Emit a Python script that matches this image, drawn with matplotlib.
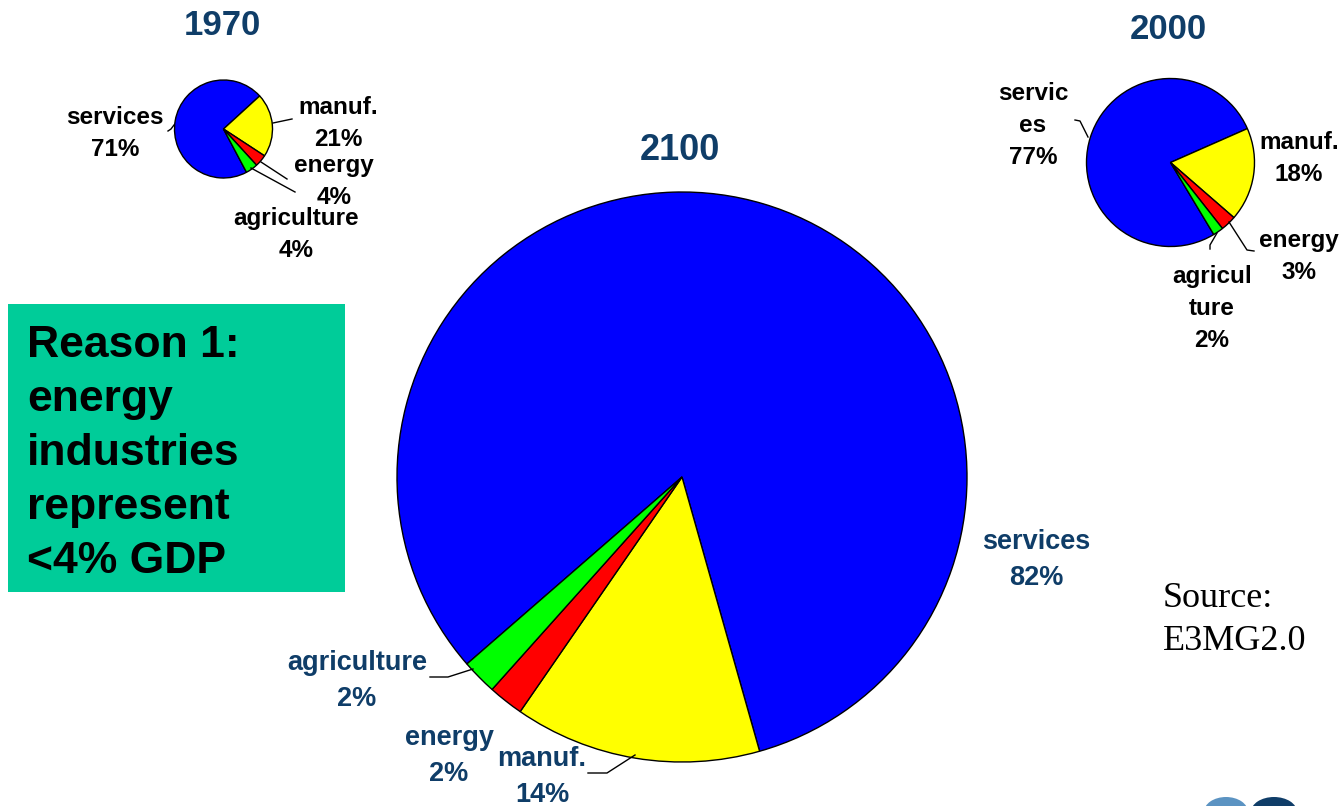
import numpy as np
import matplotlib.pyplot as plt
from matplotlib.patches import Rectangle, Ellipse

# =============================================================================
# DADOS: PARTICIPAÇÃO DOS SETORES NO PIB (%)
# =============================================================================

setores = ['services', 'manuf.', 'energy', 'agriculture']
cores = ['#0000ff', '#ffff00', '#ff0000', '#00ff00']

anos = ['1970', '2000', '2100']
part_1970 = [71, 21, 4, 4]
part_2000 = [77, 18, 3, 2]
part_2100 = [82, 14, 2, 2]

# no gráfico de 2000 os rótulos quebram no meio da palavra
nomes_2000 = ['servic\nes', 'manuf.', 'energy', 'agricul\nture']

texto_caixa = ['Reason 1:', 'energy', 'industries', 'represent', '<4% GDP']
texto_fonte = ['Source:', 'E3MG2.0']

# =============================================================================
# LAYOUT (coordenadas em pixels, origem no canto superior esquerdo)
# =============================================================================

W, H = 1343, 806
AZUL_ESCURO = '#0f3d68'

layout = {
    '1970': dict(centro=(223.5, 129), raio=49, inicio=298,
                 titulo=(222, 35), tam_titulo=25,
                 rotulos=[(115, 124), (338, 114), (334, 172), (296, 225)],
                 passo=32, tam=17.5, cor='black',
                 guias=[[(168, 131), (171, 129), (174, 125)],
                        [(273, 123), (292, 119)],
                        [(261, 162), (287, 179)],
                        [(251, 168), (295, 192)]]),
    '2000': dict(centro=(1170.5, 162.5), raio=84, inicio=301,
                 titulo=(1168, 39), tam_titulo=25,
                 rotulos=[(1033, 100), (1299, 149), (1299, 247), (1212, 283)],
                 passo=32, tam=17.5, cor='black',
                 guias=[[(1075, 120), (1080, 121), (1088, 137)],
                        None,
                        [(1229, 222), (1247, 250), (1254, 251)],
                        [(1217, 233), (1210, 245), (1210, 249)]]),
    '2100': dict(centro=(682, 477), raio=285, inicio=221,
                 titulo=(680, 160), tam_titulo=26,
                 rotulos=[(1036, 549), (542, 766), (449, 745), (357, 670)],
                 passo=36, tam=19.5, cor=AZUL_ESCURO,
                 guias=[None,
                        [(588, 773), (607, 773), (635, 755)],
                        None,
                        [(430, 677), (448, 677), (473, 669)]]),
}


def Y(y):
    """Converte y de pixel (de cima para baixo) para o eixo de baixo para cima."""
    return H - y


def rotulo(ax, x, y0, linhas, passo, clip=None, **kw):
    """Escreve cada linha centrada, com linhas de base espaçadas de 'passo'."""
    for i, s in enumerate(linhas):
        t = ax.text(x, Y(y0 + i * passo), s, ha='center', va='baseline',
                    clip_on=clip is not None, **kw)
        if clip is not None:
            t.set_clip_path(clip)


# =============================================================================
# FIGURA
# =============================================================================

plt.rcParams['font.family'] = ['Liberation Sans', 'DejaVu Sans']

fig = plt.figure(figsize=(W / 100, H / 100), dpi=100)
ax = fig.add_axes([0, 0, 1, 1])

# caixa verde com o texto
ax.add_patch(Rectangle((8, Y(592)), 337, 288, facecolor='#00cc99',
                       edgecolor='none', zorder=1))
for i, s in enumerate(texto_caixa):
    ax.text(27, Y(357 + i * 54), s, ha='left', va='baseline', fontsize=32,
            fontweight='bold', color='black', zorder=2)

# recorte para o último rótulo de 2000, que sai da área do gráfico
recorte = Rectangle((1100, Y(347)), 240, 120, transform=ax.transData,
                    visible=False)
ax.add_patch(recorte)

for ano, valores in zip(anos, [part_1970, part_2000, part_2100]):
    cfg = layout[ano]
    cx, cy = cfg['centro']
    ax.pie(valores, colors=cores, center=(cx, Y(cy)), radius=cfg['raio'],
           startangle=cfg['inicio'], counterclock=False,
           wedgeprops=dict(edgecolor='black', linewidth=1.0), frame=True)

    tx, ty = cfg['titulo']
    ax.text(tx, Y(ty), ano, ha='center', va='baseline',
            fontsize=cfg['tam_titulo'], fontweight='bold', color=AZUL_ESCURO)

    nomes = nomes_2000 if ano == '2000' else setores
    for k, (nome, v) in enumerate(zip(nomes, valores)):
        x, y0 = cfg['rotulos'][k]
        linhas = nome.split('\n') + [f'{v}%']
        clip = recorte if (ano == '2000' and k == 3) else None
        rotulo(ax, x, y0, linhas, cfg['passo'], clip=clip,
               fontsize=cfg['tam'], fontweight='bold', color=cfg['cor'])

        guia = cfg['guias'][k]
        if guia is not None:
            gx = [p[0] for p in guia]
            gy = [Y(p[1]) for p in guia]
            ax.plot(gx, gy, color='black', linewidth=1.0)

# fonte dos dados
for i, s in enumerate(texto_fonte):
    ax.text(1163, Y(607 + i * 43), s, ha='left', va='baseline', fontsize=26,
            family=['Liberation Serif', 'DejaVu Serif'], color='black')

# pedaço do logotipo no canto inferior direito
ax.add_patch(Ellipse((1226, Y(812)), 44, 30, facecolor='#5b93c2',
                     edgecolor='none'))
ax.add_patch(Ellipse((1274, Y(812)), 46, 30, facecolor='#0f3d68',
                     edgecolor='none'))

ax.set_xlim(0, W)
ax.set_ylim(0, H)
ax.set_aspect('auto')
ax.axis('off')

fig.savefig('out.png', dpi=100, facecolor='white')
